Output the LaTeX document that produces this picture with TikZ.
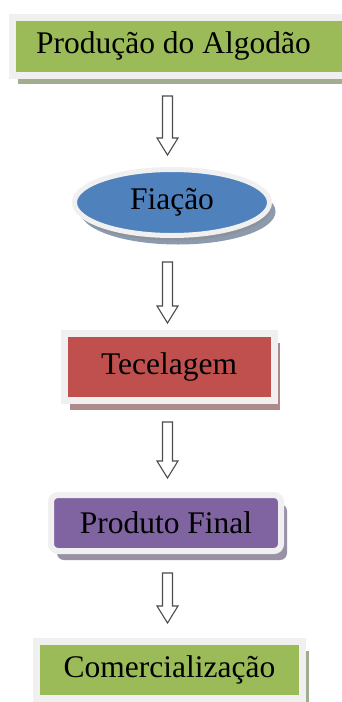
\documentclass[tikz,border=0pt]{standalone}
\usepackage{fontspec}
\setmainfont{Liberation Serif}
\usetikzlibrary{shapes, positioning, calc, shadows}

\definecolor{stagegreen}{HTML}{9BBB59}
\definecolor{stageblue}{HTML}{4F81BD}
\definecolor{stagered}{HTML}{C0504D}
\definecolor{stagepurple}{HTML}{8064A2}

\begin{document}
\begin{tikzpicture}[x=1pt, y=1pt]
  \newcommand\arrowx{167.5pt}
  \newcommand\shaftw{5pt}
  \newcommand\headw{10.5pt}
  \newcommand\headl{17pt}

  \tikzset{stage/.style={fill=#1, draw=black!6, line width=7pt, outer sep=0pt,
      font=\fontsize{31.5}{36}\selectfont, text=black,
      drop shadow={shadow xshift=6pt, shadow yshift=-9pt, fill=#1!55!black, opacity=0.55}}}
  \tikzset{stagebox/.style={stage=#1, rectangle}}
  \tikzset{flow/.style 2 args={draw=black!70, fill=white, line width=1.1pt, to path={
      let \p1=(\tikztostart.south), \p2=(\tikztotarget.north) in
      (\arrowx-\shaftw, \y1-#1) -- (\arrowx+\shaftw, \y1-#1)
      -- (\arrowx+\shaftw, \y2+#2+\headl) -- (\arrowx+\headw, \y2+#2+\headl)
      -- (\arrowx, \y2+#2) -- (\arrowx-\headw, \y2+#2+\headl)
      -- (\arrowx-\shaftw, \y2+#2+\headl) -- cycle}}}

  \useasboundingbox (0,0) rectangle (342,-702);

  % stages
  \node[stagebox=stagegreen, minimum width=370pt, minimum height=58pt]
    at (197, -46) (prod) {\hspace*{-47pt}Produção do Algodão};
  \node[stage=stageblue, ellipse, line width=5pt, inner sep=0pt, minimum width=195pt,
    minimum height=66pt, below=94.5pt of prod, xshift=-25pt,
    drop shadow={shadow xshift=2pt, shadow yshift=-5pt, fill=black!45, opacity=0.5}] (fia) {Fiação};
  \node[stagebox=stagered, minimum width=210pt, minimum height=67pt,
    below=98pt of fia, xshift=-3pt] (tec) {Tecelagem};
  \node[stagebox=stagepurple, rounded corners=7pt, line width=6pt, minimum width=230pt,
    minimum height=56pt, below=94.5pt of tec, xshift=-3pt] (final) {Produto Final};
  \node[stagebox=stagegreen, minimum width=266pt, minimum height=57pt,
    below=90.5pt of final, xshift=3.5pt] (com) {Comercialização};

  % arrows
  \draw[flow={21pt}{14.5pt}] (prod) to (fia);
  \draw[flow={26.5pt}{10.5pt}] (fia) to (tec);
  \draw[flow={21.5pt}{17pt}] (tec) to (final);
  \draw[flow={22pt}{18.5pt}] (final) to (com);
\end{tikzpicture}
\end{document}
